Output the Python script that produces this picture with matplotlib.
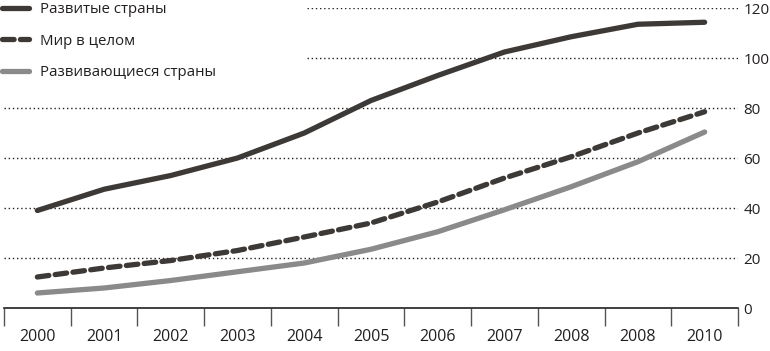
import matplotlib.pyplot as plt
from matplotlib.ticker import FixedLocator
import numpy as np

plt.rcParams['font.family'] = ['Open Sans', 'DejaVu Sans']

years = ['2000', '2001', '2002', '2003', '2004', '2005',
         '2006', '2007', '2008', '2008', '2010']
developed = [39, 47.5, 53, 60, 70, 83, 93, 102.4, 108.5, 113.5, 114.3]
world = [12.4, 16, 19, 23, 28.4, 34, 42.4, 52, 60.5, 70, 78.5]
developing = [6, 8, 11, 14.5, 18, 23.5, 30.5, 39.3, 48.5, 58.5, 70.4]
labels = ['Развитые страны', 'Мир в целом', 'Развивающиеся страны']
yticks = [0, 20, 40, 60, 80, 100, 120]

dark = '#3d3936'
grey = '#8a8a8a'
text_c = '#231f20'

W, H = 770, 351
fig = plt.figure(figsize=(W / 100, H / 100), dpi=100)
ax = fig.add_axes([4 / W, (H - 308) / H, (738 - 4) / W, 300 / H])

x = np.arange(len(years))
ax.set_xlim(-0.5, len(years) - 0.5)
ax.set_ylim(0, 120)

# пунктирная сетка; верхние две линии начинаются правее легенды
x0, x1 = ax.get_xlim()
legend_edge = x0 + (307 - 4) / (738 - 4) * (x1 - x0)
for v in yticks[1:]:
    start = legend_edge if v >= 100 else x0
    ax.hlines(v, start, x1, colors=text_c, linestyles=(0, (1, 2)),
              linewidth=1.0, zorder=1)

ax.plot(x, developed, color=dark, lw=3.8, solid_capstyle='round', label=labels[0], zorder=3)
ax.plot(x, world, color=dark, lw=3.8, dashes=(2.2, 1.2), dash_capstyle='round', label=labels[1], zorder=3)
ax.plot(x, developing, color=grey, lw=3.8, solid_capstyle='round', label=labels[2], zorder=3)

for s in ['top', 'left', 'right']:
    ax.spines[s].set_visible(False)
ax.spines['bottom'].set_color(text_c)
ax.spines['bottom'].set_linewidth(1.2)

ax.xaxis.set_major_locator(FixedLocator(np.arange(-0.5, len(years), 1.0)))
ax.xaxis.set_minor_locator(FixedLocator(x))
ax.set_xticklabels([], minor=False)
ax.set_xticklabels(years, minor=True)
ax.tick_params(axis='x', which='major', length=13, width=1.0, color='#555555', direction='out')
ax.tick_params(axis='x', which='minor', length=0, pad=15, labelsize=11.5, labelcolor=text_c)

ax.set_yticks(yticks)
ax.yaxis.tick_right()
ax.tick_params(axis='y', length=0, pad=4, labelsize=11, labelcolor=text_c)

leg = ax.legend(loc='upper left', bbox_to_anchor=(0.002, 0.995), bbox_transform=fig.transFigure,
                frameon=False, fontsize=10.8, handlelength=1.8, handletextpad=0.75,
                labelspacing=1.12, borderaxespad=0, borderpad=0)
for t in leg.get_texts():
    t.set_color(text_c)

fig.savefig('out.png', dpi=100)
